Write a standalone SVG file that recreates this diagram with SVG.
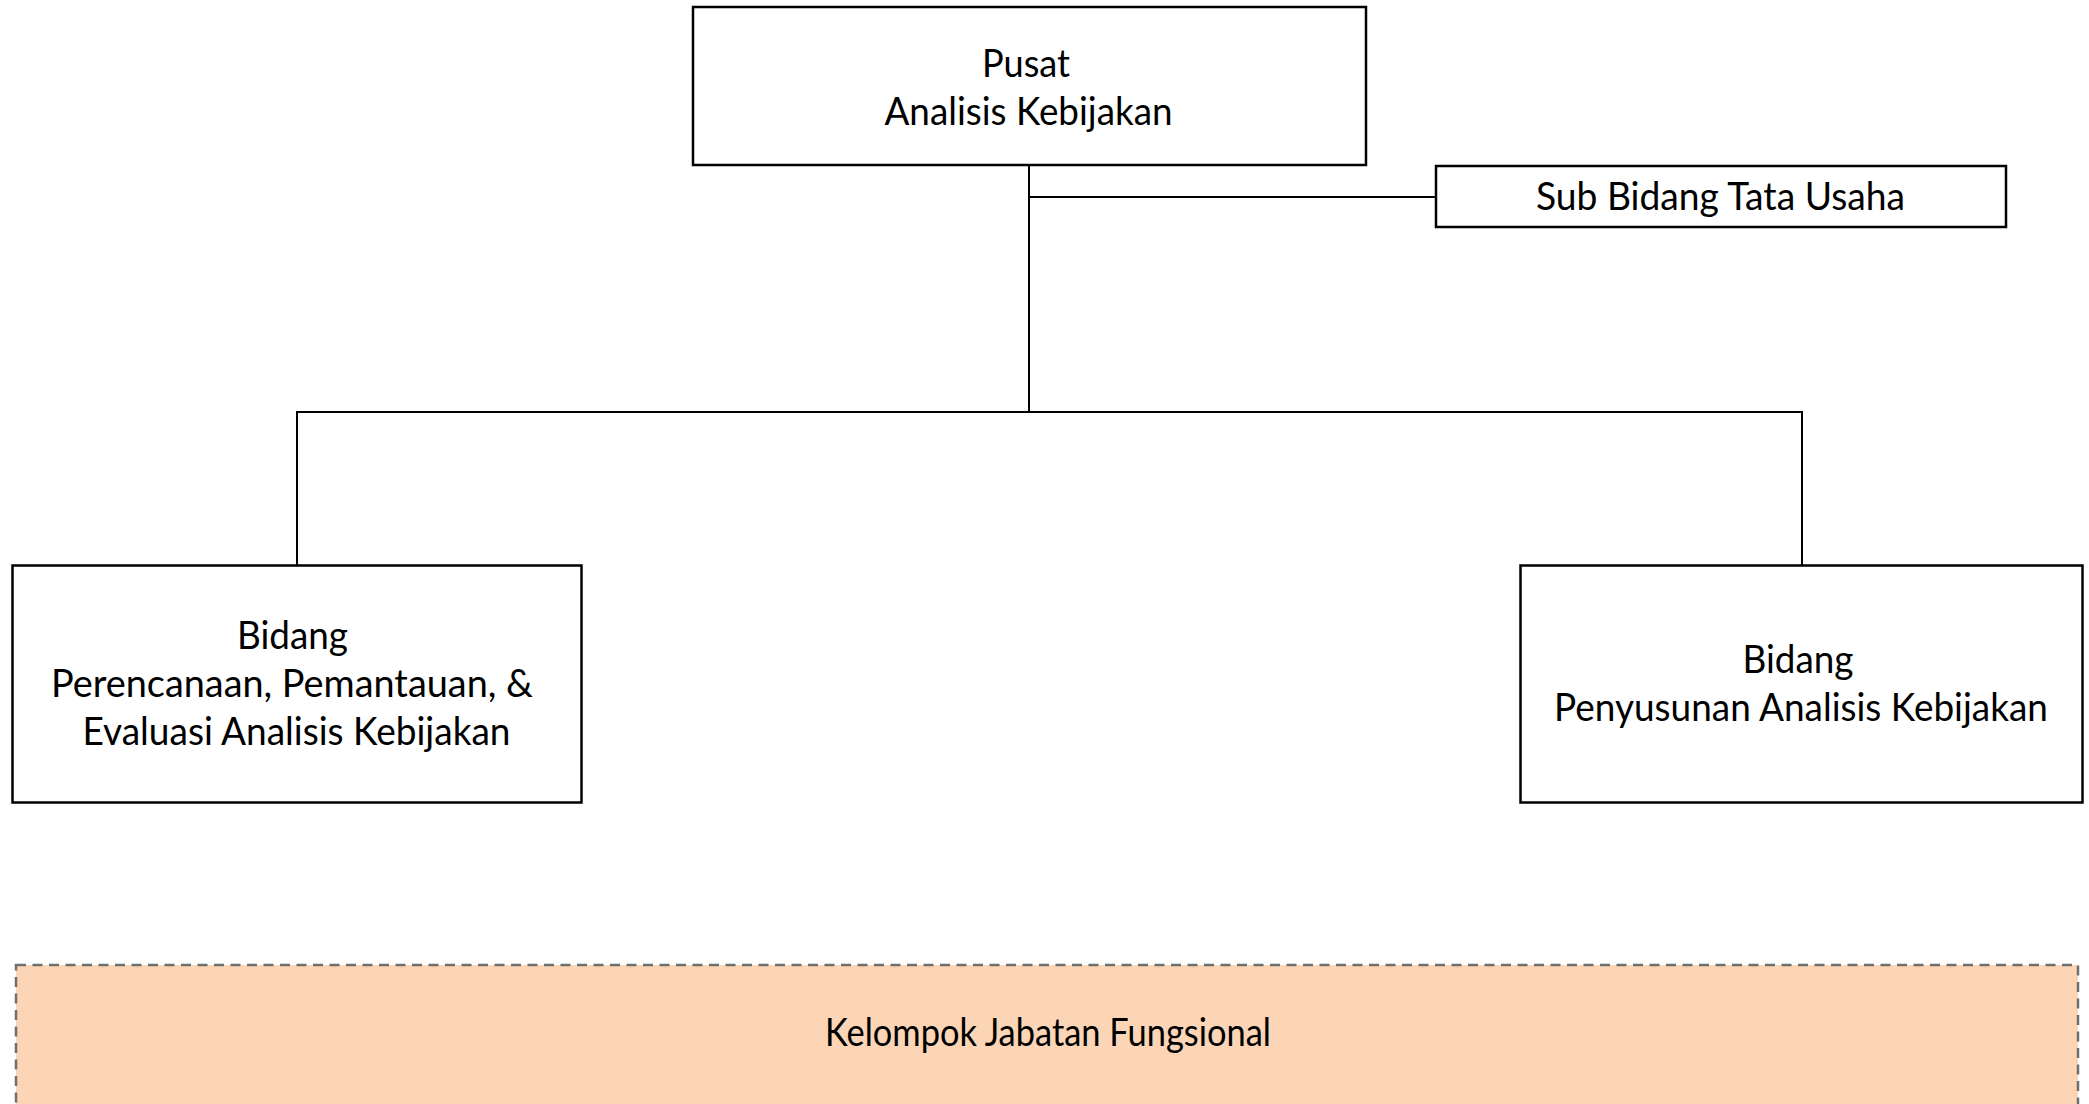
<svg xmlns="http://www.w3.org/2000/svg" width="2089" height="1104" viewBox="0 0 2089 1104">
<style>
.box{fill:#ffffff;stroke:#000000;stroke-width:2.5}
.conn{fill:none;stroke:#000000;stroke-width:2}
.lbl{font-family:Lato,"Open Sans","Liberation Sans",sans-serif;font-size:39px;fill:#000000;text-anchor:middle}
.grp{fill:#FBD5B5;stroke:#6f6f6f;stroke-width:2.5;stroke-dasharray:10 6.5}
</style>
<rect width="2089" height="1104" fill="#ffffff"/>
<g id="connectors">
<path class="conn" d="M1029 165 V412"/>
<path class="conn" d="M1029 197 H1436"/>
<path class="conn" d="M297 565 V412 H1802 V565"/>
</g>
<g id="pusat">
<rect class="box" x="693" y="7" width="673" height="158"/>
<text class="lbl" x="1026" y="77" textLength="88" lengthAdjust="spacingAndGlyphs">Pusat</text>
<text class="lbl" x="1028.5" y="125" textLength="288" lengthAdjust="spacingAndGlyphs">Analisis Kebijakan</text>
</g>
<g id="tata-usaha">
<rect class="box" x="1436" y="166" width="570" height="61"/>
<text class="lbl" x="1720.5" y="210" textLength="369" lengthAdjust="spacingAndGlyphs">Sub Bidang Tata Usaha</text>
</g>
<g id="bidang-ppe">
<rect class="box" x="12.5" y="565.5" width="569" height="237"/>
<text class="lbl" x="292.5" y="649" textLength="111" lengthAdjust="spacingAndGlyphs">Bidang</text>
<text class="lbl" x="292" y="697" textLength="482" lengthAdjust="spacingAndGlyphs">Perencanaan, Pemantauan, &amp;</text>
<text class="lbl" x="296.5" y="745" textLength="428" lengthAdjust="spacingAndGlyphs">Evaluasi Analisis Kebijakan</text>
</g>
<g id="bidang-pak">
<rect class="box" x="1520.5" y="565.5" width="562" height="237"/>
<text class="lbl" x="1798" y="673" textLength="111" lengthAdjust="spacingAndGlyphs">Bidang</text>
<text class="lbl" x="1801" y="721" textLength="494" lengthAdjust="spacingAndGlyphs">Penyusunan Analisis Kebijakan</text>
</g>
<g id="jabatan-fungsional">
<rect class="grp" x="16" y="965" width="2062" height="160"/>
<text class="lbl" x="1048" y="1046" textLength="446" lengthAdjust="spacingAndGlyphs">Kelompok Jabatan Fungsional</text>
</g>
</svg>
